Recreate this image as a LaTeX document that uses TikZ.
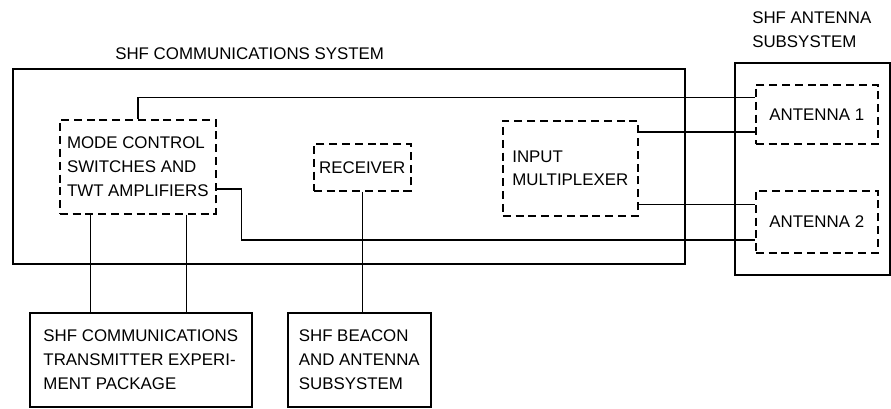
\documentclass[tikz,border=0pt]{standalone}
\usepackage{fontspec}
\setmainfont{Liberation Sans}
\usepackage{tikz}
\usetikzlibrary{positioning, calc}

\begin{document}
\begin{tikzpicture}[
    x=0.025cm, y=-0.025cm,
    font=\fontsize{12}{17}\selectfont,
    box/.style={draw, line width=1.1pt, anchor=north west, align=left, inner sep=0pt},
    dbox/.style={box, dash pattern=on 0.2cm off 0.12cm},
    line/.style={line width=1.1pt}
]
\useasboundingbox (0,0) rectangle (891,408);

% outer systems
\node[box, minimum width=16.8cm, minimum height=4.875cm] (sys) at (12,68) {};
\node[anchor=south west, inner sep=0pt] (systitle) at (115,60) {SHF COMMUNICATIONS SYSTEM};
\node[box, minimum width=3.875cm, minimum height=5.3cm] (antsub) at (734,62) {};
\node[anchor=south west, align=left, inner sep=0pt] (anttitle) at (752,48) {SHF ANTENNA\\SUBSYSTEM};

% units inside
\node[dbox, minimum width=3.9cm, minimum height=2.35cm] (mode) at (59,119) {MODE CONTROL\\SWITCHES AND\\TWT AMPLIFIERS};
\node[dbox, minimum width=2.425cm, minimum height=1.175cm] (recv) at (313,143) {RECEIVER};
\node[dbox, minimum width=3.375cm, minimum height=2.375cm] (mux) at (502,120) {INPUT\\MULTIPLEXER};
\node[dbox, minimum width=3.05cm, minimum height=1.475cm] (ant1) at (755,84) {ANTENNA 1};
\node[dbox, minimum width=3.05cm, minimum height=1.55cm] (ant2) at (755,190) {ANTENNA 2};

% external packages
\node[box, minimum width=5.55cm, minimum height=2.35cm] (tx) at (29,312) {SHF COMMUNICATIONS\\TRANSMITTER EXPERI-\\MENT PACKAGE};
\node[box, minimum width=3.575cm, minimum height=2.35cm] (beacon) at (287,312) {SHF BEACON\\AND ANTENNA\\SUBSYSTEM};

% connections
\draw[line] (mode.north) |- ($(ant1.north west)!0.22!(ant1.south west)$);
\draw[line] ($(mode.north east)!0.734!(mode.south east)$) -- ++(25,0) |- ($(ant2.north west)!0.79!(ant2.south west)$);
\coordinate (mx1) at ($(mux.north east)!0.126!(mux.south east)$);
\coordinate (mx2) at ($(mux.north east)!0.874!(mux.south east)$);
\draw[line] (mx1) -- (mx1 -| ant1.west);
\draw[line] (mx2) -- (mx2 -| ant2.west);
\coordinate (mb1) at ($(mode.south west)!0.2!(mode.south east)$);
\coordinate (mb2) at ($(mode.south west)!0.81!(mode.south east)$);
\draw[line] (mb1) -- (mb1 |- tx.north);
\draw[line] (mb2) -- (mb2 |- tx.north);
\draw[line] (recv.south) -- (recv.south |- beacon.north);

\end{tikzpicture}
\end{document}
